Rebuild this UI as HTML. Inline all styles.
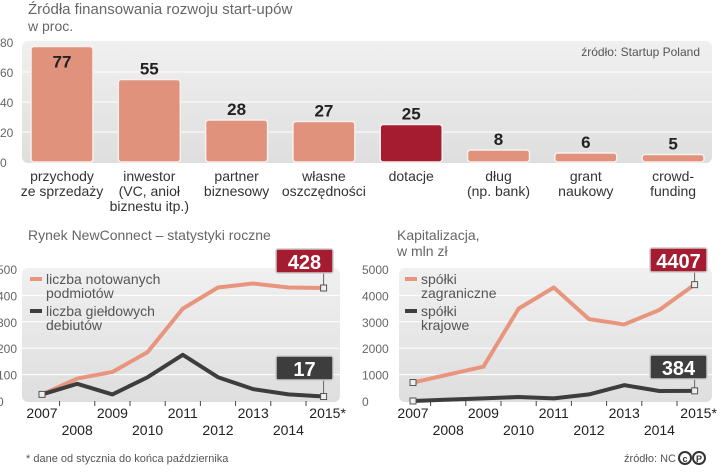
<!DOCTYPE html>
<html><head><meta charset="utf-8"><style>
body{margin:0;background:#fff;width:721px;height:468px;overflow:hidden;font-family:"Liberation Sans Narrow","Liberation Sans",sans-serif}
svg text{font-family:"Liberation Sans Narrow","Liberation Sans",sans-serif}
</style></head><body>
<svg id="s" width="721" height="468" viewBox="0 0 721 468" xmlns="http://www.w3.org/2000/svg">
<defs>
<linearGradient id="pg" x1="0" y1="0" x2="0" y2="1"><stop offset="0" stop-color="#f0f0f0"/><stop offset="1" stop-color="#dedede"/></linearGradient>
</defs>
<text x="28" y="14" font-size="15" fill="#666">Źródła finansowania rozwoju start-upów</text>
<text x="28" y="31" font-size="14" fill="#666">w proc.</text>
<rect x="22" y="41" width="690" height="122" rx="6" fill="url(#pg)"/>
<text x="700" y="56" font-size="12" fill="#555" text-anchor="end">źródło: Startup Poland</text>
<g id="topChart"></g>
<text x="28" y="240" font-size="14" fill="#666">Rynek NewConnect – statystyki roczne</text>
<rect x="22" y="268" width="318" height="134" rx="6" fill="url(#pg)"/>
<text x="397" y="240" font-size="14" fill="#666">Kapitalizacja,</text>
<text x="397" y="256" font-size="14" fill="#666">w mln zł</text>
<rect x="399" y="268" width="313" height="134" rx="6" fill="url(#pg)"/>
<g id="left"></g><g id="right"></g>
<text x="26" y="462" font-size="11" fill="#555">* dane od stycznia do końca października</text>
<text x="676" y="462" font-size="11" fill="#555" text-anchor="end">źródło: NC</text>
<g><circle cx="685" cy="458" r="6" fill="none" stroke="#333" stroke-width="2"/><circle cx="699" cy="458" r="6" fill="none" stroke="#333" stroke-width="2"/><text x="685" y="462" font-size="9" font-weight="bold" text-anchor="middle" fill="#333">c</text><text x="699" y="462" font-size="9" font-weight="bold" text-anchor="middle" fill="#333">P</text></g>
</svg>
<script>
const barCats=[["przychody","ze sprzedaży"],["inwestor","(VC, anioł","biznestu itp.)"],["partner","biznesowy"],["własne","oszczędności"],["dotacje"],["dług","(np. bank)"],["grant","naukowy"],["crowd-","funding"]];
const barValues=[77,55,28,27,25,8,6,5];
const barTicks=[0,20,40,60,80];
const years=["2007","2008","2009","2010","2011","2012","2013","2014","2015*"];
const ncListed=[25,85,110,185,350,430,445,430,428];
const ncDebuts=[25,65,25,90,175,90,45,25,17];
const leftTicks=[0,100,200,300,400,500];
const capForeign=[700,1000,1300,3500,4300,3100,2900,3450,4407];
const capDomestic=[0,50,100,150,100,250,600,380,384];
const rightTicks=[0,1000,2000,3000,4000,5000];
const NS="http://www.w3.org/2000/svg";
function mk(p,tag,a,txt){const e=document.createElementNS(NS,tag);for(const k in a)e.setAttribute(k,a[k]);if(txt!==undefined)e.textContent=txt;p.appendChild(e);return e;}
const topG=document.getElementById('topChart');
const ty=v=>162-v*1.5;
const bx=i=>62+i*87.3;
barTicks.forEach(t=>{
 if(t>0&&t<80){const l=mk(topG,'line',{x1:22,x2:712,y1:ty(t),y2:ty(t),stroke:'#fff','stroke-width':1});
 
 }
 const e=mk(topG,'text',{x:0,y:ty(t)+5,'font-size':12,fill:'#666'},t);
 
 
});
barValues.forEach((v,i)=>{
 const x=bx(i),w=62;
 const r=mk(topG,'rect',{x:x-w/2,y:ty(v),width:w,height:ty(0)-ty(v),rx:3,fill:i==4?'#a51c30':'#e0927c',stroke:'#f7f0ee','stroke-width':1.5});
 
 
 const inside=v>70;
 const t=mk(topG,'text',{x:x,y:inside?ty(v)+21:ty(v)-5,'font-size':17,'font-weight':'bold','text-anchor':'middle',fill:'#222'},v);
 
 
 barCats[i].forEach((ln,j)=>{
  const c=mk(topG,'text',{x:x,y:181+j*15,'font-size':14,'text-anchor':'middle',fill:'#333'},ln);
  
  
 });
});
function lineChart(gid,x0,max,ticks,s1,s2,n1,n2,offX){
 const g=document.getElementById(gid);
 const sx=i=>x0+i*35.2, sy=v=>401-v/max*132;
 ticks.forEach(t=>{
  if(t>0&&t<max){const l=mk(g,'line',{x1:offX+22,x2:offX+22+(gid=='left'?318:313),y1:sy(t),y2:sy(t),stroke:'#fff','stroke-width':1});
  
  }
  const e=mk(g,'text',{x:gid=='left'?-3:362,y:sy(t)+5,'font-size':12,fill:'#666'},t);
  
  
 });
 years.forEach((y,i)=>{
  if(i<8){const tk=mk(g,'line',{x1:sx(i)+17.6,x2:sx(i)+17.6,y1:401,y2:406,stroke:'#444','stroke-width':1});
  
  }
  const e=mk(g,'text',{x:sx(i)+(i==8?4:0),y:i%2==0?418:435,'font-size':14,'text-anchor':'middle',fill:'#222'},y);
  
  
 });
 [[s1,'#e8957e',n1],[s2,'#3d3d3d',n2]].forEach(([s,c,n])=>{
  const p=mk(g,'polyline',{points:s.map((v,i)=>sx(i)+','+sy(v)).join(' '),fill:'none',stroke:c,'stroke-width':4,'stroke-linejoin':'round'});
  
  
 });
 return {g,sx,sy};
}
function callout(g,x,y,val,color,bx,by,name){
 mk(g,'line',{x1:x,x2:x,y1:by+24,y2:y,stroke:'#666','stroke-width':1});
 mk(g,'rect',{x:x-3,y:y-3,width:6,height:6,fill:'#eee',stroke:'#555','stroke-width':1});
 const r=mk(g,'rect',{x:bx,y:by,width:57,height:24,fill:color,stroke:'#ccc','stroke-width':1.5,rx:2});
 
 
 const t=mk(g,'text',{x:bx+28.5,y:by+20,'font-size':20,'font-weight':'bold','text-anchor':'middle',fill:'#fff'},val);
 
 
}
const L=lineChart('left',42,500,leftTicks,ncListed,ncDebuts,'line-listed-companies','line-debuts',0);
callout(L.g,L.sx(8),L.sy(ncListed[8]),ncListed[8],'#a51c30',276,249,'callout-listed');
callout(L.g,L.sx(8),L.sy(ncDebuts[8]),ncDebuts[8],'#3d3d3d',276,356,'callout-debuts');
[['#e8957e',['liczba notowanych','podmiotów'],284],['#3d3d3d',['liczba giełdowych','debiutów'],316]].forEach(([c,ls,y])=>{
 const m=mk(L.g,'line',{x1:30,x2:42,y1:y-5,y2:y-5,stroke:c,'stroke-width':4});
 
 
 ls.forEach((s,j)=>{const t=mk(L.g,'text',{x:46,y:y+j*14,'font-size':14,fill:'#555'},s);
 
 });
});
const R=lineChart('right',413,5000,rightTicks,capForeign,capDomestic,'line-foreign-companies','line-domestic-companies',377);
callout(R.g,R.sx(8),R.sy(capForeign[8]),capForeign[8],'#a51c30',650,248,'callout-foreign');
callout(R.g,R.sx(8),R.sy(capDomestic[8]),capDomestic[8],'#3d3d3d',650,355,'callout-domestic');
[[R.sx(0),R.sy(capForeign[0])],[R.sx(0),R.sy(capDomestic[0])],[L.sx(0),L.sy(ncListed[0])]].forEach(([x,y])=>{
 const d=mk(R.g,'rect',{x:x-3,y:y-3,width:6,height:6,fill:'#eee',stroke:'#555','stroke-width':1});
 
 
});
[['#e8957e',['spółki','zagraniczne'],284],['#3d3d3d',['spółki','krajowe'],316]].forEach(([c,ls,y])=>{
 const m=mk(R.g,'line',{x1:405,x2:417,y1:y-5,y2:y-5,stroke:c,'stroke-width':4});
 
 
 ls.forEach((s,j)=>{const t=mk(R.g,'text',{x:421,y:y+j*14,'font-size':14,fill:'#555'},s);
 
 });
});
</script>
</body></html>
